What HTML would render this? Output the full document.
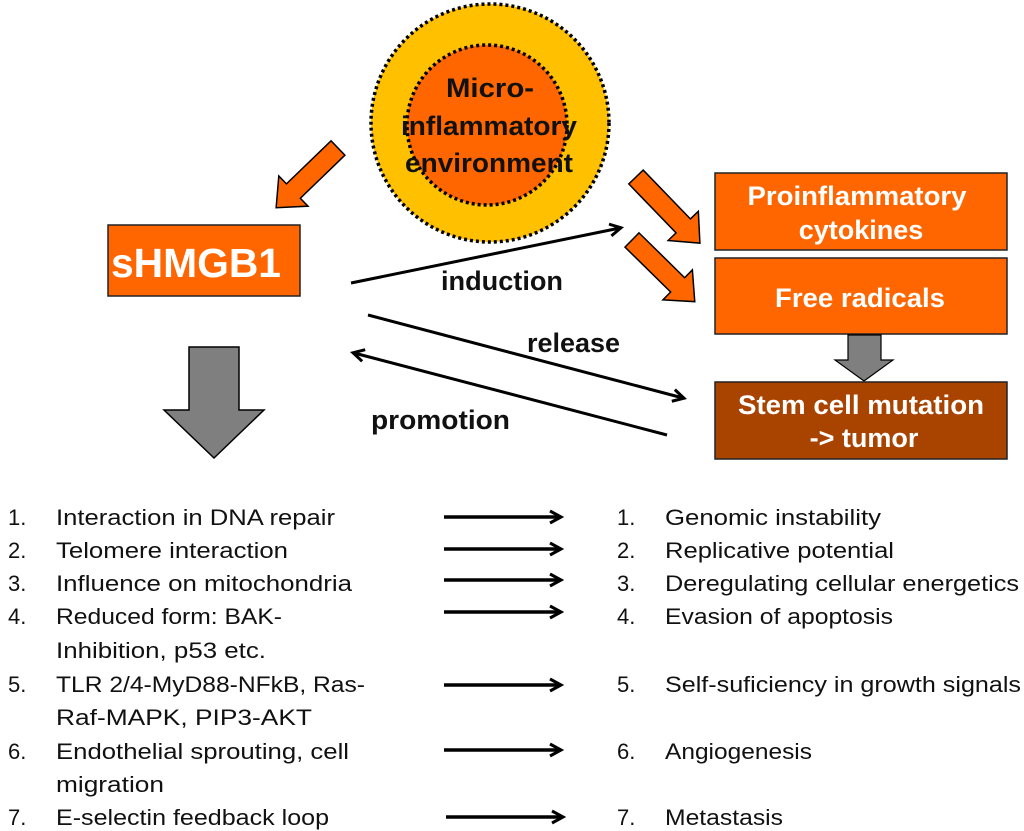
<!DOCTYPE html>
<html><head><meta charset="utf-8"><style>html,body{margin:0;padding:0;background:#fff}svg{display:block}</style></head>
<body>
<svg width="1024" height="831" viewBox="0 0 1024 831" xmlns="http://www.w3.org/2000/svg" font-family="Liberation Sans, sans-serif">
<defs>
<marker id="ah" markerWidth="16" markerHeight="16" refX="12" refY="8" orient="auto" markerUnits="userSpaceOnUse">
<path d="M2,2 L13,8 L2,14" fill="none" stroke="#000" stroke-width="3"/>
</marker>
</defs>
<circle cx="490" cy="123" r="119" fill="#FFC000" stroke="#000" stroke-width="3.5" stroke-dasharray="3,3"/>
<circle cx="487" cy="125" r="80" fill="#FF6600" stroke="#000" stroke-width="3.5" stroke-dasharray="3,3"/>
<g font-weight="bold" font-size="27" text-anchor="middle" fill="#111">
<text x="490" y="97" textLength="88" lengthAdjust="spacingAndGlyphs">Micro-</text>
<text x="489" y="135" textLength="176" lengthAdjust="spacingAndGlyphs">inflammatory</text>
<text x="489" y="172" textLength="168" lengthAdjust="spacingAndGlyphs">environment</text>
</g>
<g fill="#FF6600" stroke="#000" stroke-width="1.5">
<polygon transform="translate(338,148) rotate(136)" points="0,-10 62,-10 62,-21 86,0 62,21 62,10 0,10"/>
<polygon transform="translate(636,177) rotate(46)" points="0,-10 68,-10 68,-21 92,0 68,21 68,10 0,10"/>
<polygon transform="translate(632,240) rotate(44.5)" points="0,-10 64,-10 64,-21 88,0 64,21 64,10 0,10"/>
</g>
<rect x="108" y="225" width="192" height="71" fill="#FF6600" stroke="#222" stroke-width="1.5"/>
<text x="111" y="277" font-size="41" font-weight="bold" fill="#fff" textLength="170" lengthAdjust="spacingAndGlyphs">sHMGB1</text>
<polygon points="189,347 239,347 239,410 264,410 214,458 164,410 189,410" fill="#7F7F7F" stroke="#000" stroke-width="1.5"/>
<rect x="715" y="173" width="292" height="77" fill="#FF6600" stroke="#222" stroke-width="1.5"/>
<g font-size="27" font-weight="bold" fill="#fff" text-anchor="middle">
<text x="857" y="205" textLength="219" lengthAdjust="spacingAndGlyphs">Proinflammatory</text>
<text x="861" y="239">cytokines</text>
<text x="860" y="307" textLength="170" lengthAdjust="spacingAndGlyphs">Free radicals</text>
<text x="861" y="414" textLength="246" lengthAdjust="spacingAndGlyphs">Stem cell mutation</text>
<text x="864" y="447">-&gt; tumor</text>
</g>
<rect x="715" y="258" width="292" height="76" fill="#FF6600" stroke="#222" stroke-width="1.5"/>
<g font-size="27" font-weight="bold" fill="#fff" text-anchor="middle">
<text x="860" y="307" textLength="170" lengthAdjust="spacingAndGlyphs">Free radicals</text>
</g>
<polygon points="848,335 881,335 881,360 893,360 864,381 835,360 848,360" fill="#7F7F7F" stroke="#000" stroke-width="1.2"/>
<rect x="715" y="382" width="292" height="77" fill="#A84300" stroke="#222" stroke-width="1.5"/>
<g font-size="27" font-weight="bold" fill="#fff" text-anchor="middle">
<text x="861" y="414" textLength="246" lengthAdjust="spacingAndGlyphs">Stem cell mutation</text>
<text x="864" y="447">-&gt; tumor</text>
</g>
<g stroke="#000" stroke-width="3" fill="none">
<line x1="351" y1="283" x2="620" y2="228" marker-end="url(#ah)"/>
<line x1="368" y1="315" x2="683" y2="398" marker-end="url(#ah)"/>
<line x1="667" y1="435" x2="354" y2="353" marker-end="url(#ah)"/>
</g>
<g font-size="27" font-weight="bold" fill="#111">
<text x="441" y="290" textLength="122" lengthAdjust="spacingAndGlyphs">induction</text>
<text x="527" y="352" textLength="93" lengthAdjust="spacingAndGlyphs">release</text>
<text x="371" y="429" textLength="139" lengthAdjust="spacingAndGlyphs">promotion</text>
</g>
<g font-size="22" fill="#111">
<text x="8" y="525">1.</text><text x="56" y="525" textLength="279" lengthAdjust="spacingAndGlyphs">Interaction in DNA repair</text>
<text x="8" y="558">2.</text><text x="56" y="558" textLength="232" lengthAdjust="spacingAndGlyphs">Telomere interaction</text>
<text x="8" y="591">3.</text><text x="56" y="591" textLength="296" lengthAdjust="spacingAndGlyphs">Influence on mitochondria</text>
<text x="8" y="624">4.</text><text x="56" y="624" textLength="226" lengthAdjust="spacingAndGlyphs">Reduced form: BAK-</text>
<text x="56" y="658" textLength="210" lengthAdjust="spacingAndGlyphs">Inhibition, p53 etc.</text>
<text x="8" y="692">5.</text><text x="56" y="692" textLength="309" lengthAdjust="spacingAndGlyphs">TLR 2/4-MyD88-NFkB,  Ras-</text>
<text x="56" y="725" textLength="256" lengthAdjust="spacingAndGlyphs">Raf-MAPK, PIP3-AKT</text>
<text x="8" y="759">6.</text><text x="56" y="759" textLength="293" lengthAdjust="spacingAndGlyphs">Endothelial sprouting, cell</text>
<text x="56" y="792" textLength="108" lengthAdjust="spacingAndGlyphs">migration</text>
<text x="8" y="825">7.</text><text x="56" y="825" textLength="273" lengthAdjust="spacingAndGlyphs">E-selectin feedback loop</text>
<text x="617" y="525">1.</text><text x="665" y="525" textLength="216" lengthAdjust="spacingAndGlyphs">Genomic instability</text>
<text x="617" y="558">2.</text><text x="665" y="558" textLength="229" lengthAdjust="spacingAndGlyphs">Replicative potential</text>
<text x="617" y="591">3.</text><text x="665" y="591" textLength="354" lengthAdjust="spacingAndGlyphs">Deregulating cellular energetics</text>
<text x="617" y="624">4.</text><text x="665" y="624" textLength="228" lengthAdjust="spacingAndGlyphs">Evasion of apoptosis</text>
<text x="617" y="692">5.</text><text x="665" y="692" textLength="356" lengthAdjust="spacingAndGlyphs">Self-suficiency in growth signals</text>
<text x="617" y="759">6.</text><text x="665" y="759" textLength="147" lengthAdjust="spacingAndGlyphs">Angiogenesis</text>
<text x="617" y="825">7.</text><text x="665" y="825" textLength="118" lengthAdjust="spacingAndGlyphs">Metastasis</text>
</g>
<g stroke="#000" stroke-width="3.5" fill="none">
<line x1="444" y1="517" x2="560" y2="517" marker-end="url(#ah)"/>
<line x1="444" y1="549" x2="560" y2="549" marker-end="url(#ah)"/>
<line x1="444" y1="580" x2="560" y2="580" marker-end="url(#ah)"/>
<line x1="444" y1="612" x2="560" y2="612" marker-end="url(#ah)"/>
<line x1="444" y1="685" x2="560" y2="685" marker-end="url(#ah)"/>
<line x1="444" y1="750" x2="560" y2="750" marker-end="url(#ah)"/>
<line x1="446" y1="817" x2="562" y2="817" marker-end="url(#ah)"/>
</g>
</svg>
</body></html>
